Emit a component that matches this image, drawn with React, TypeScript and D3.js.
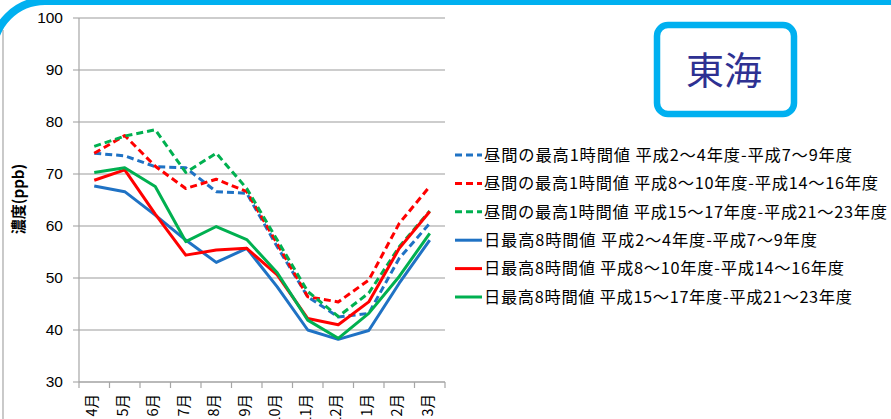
import React from "react";
import * as d3 from "d3";

const months = ["4月", "5月", "6月", "7月", "8月", "9月", "10月", "11月", "12月", "1月", "2月", "3月"];
const yTicks = [30, 40, 50, 60, 70, 80, 90, 100];

const dayBlue = [74.0, 73.5, 71.4, 71.2, 66.6, 66.3, 56.0, 46.4, 42.5, 43.2, 53.8, 60.5];
const dayRed = [74.0, 77.4, 71.5, 67.2, 69.0, 66.6, 56.6, 46.4, 45.4, 49.6, 60.5, 67.6];
const dayGreen = [75.3, 77.3, 78.5, 70.3, 74.0, 67.2, 57.3, 47.4, 42.6, 47.1, 56.0, 62.9];
const h8Blue = [67.7, 66.6, 62.1, 57.3, 53.0, 55.7, 48.3, 40.0, 38.2, 39.9, 49.0, 57.3];
const h8Red = [68.8, 70.8, 62.3, 54.4, 55.4, 55.7, 50.6, 42.2, 41.0, 45.4, 55.7, 62.8];
const h8Green = [70.3, 71.2, 67.6, 57.0, 59.9, 57.4, 51.0, 41.9, 38.4, 43.2, 50.3, 58.6];

const seriesNames = [
  "昼間の最高1時間値 平成2～4年度-平成7～9年度",
  "昼間の最高1時間値 平成8～10年度-平成14～16年度",
  "昼間の最高1時間値 平成15～17年度-平成21～23年度",
  "日最高8時間値 平成2～4年度-平成7～9年度",
  "日最高8時間値 平成8～10年度-平成14～16年度",
  "日最高8時間値 平成15～17年度-平成21～23年度",
];

const BLUE = "#1F72C4";
const RED = "#FF0000";
const GREEN = "#00B050";

const series = [
  { name: seriesNames[0], values: dayBlue, color: BLUE, dash: "7,4" },
  { name: seriesNames[1], values: dayRed, color: RED, dash: "7,4" },
  { name: seriesNames[2], values: dayGreen, color: GREEN, dash: "7,4" },
  { name: seriesNames[3], values: h8Blue, color: BLUE, dash: null },
  { name: seriesNames[4], values: h8Red, color: RED, dash: null },
  { name: seriesNames[5], values: h8Green, color: GREEN, dash: null },
];

const legendWidths = [368, 394, 403, 333, 360, 368];

export default function App() {
  const W = 891, H = 419;
  const x0 = 79, x1 = 445, yTop = 18, yBot = 382;
  const x = d3.scaleBand<string>().domain(months).range([x0, x1]);
  const y = d3.scaleLinear().domain([30, 100]).range([yBot, yTop]);
  const line = d3
    .line<number>()
    .x((_, i) => (x(months[i]) as number) + x.bandwidth() / 2)
    .y((d) => y(d));
  const numFont = "'Liberation Sans', Arial, sans-serif";
  const jpFont = "'Noto Sans CJK JP', sans-serif";
  const legX = 455, legY0 = 155, legStep = 28.4;
  const bounds = months.map((m) => x(m) as number).concat([x1]);

  return (
    <svg width={W} height={H} style={{ position: "absolute", left: 0, top: 0, background: "#fff" }}>
      <rect x={0} y={0} width={W} height={H} fill="#fff" />
      <line x1={3} y1={30} x2={3} y2={H} stroke="#A6A6A6" strokeWidth={1.2} />
      {yTicks.map((t) => (
        <g key={t}>
          <line x1={73} x2={x1} y1={y(t)} y2={y(t)} stroke="#BDBDBD" strokeWidth={1.3} />
          <text x={63} y={y(t)} dy="0.35em" textAnchor="end" fontFamily={numFont} fontSize={15.5} fill="#000">
            {t}
          </text>
        </g>
      ))}
      <line x1={x0} x2={x0} y1={yTop} y2={yBot} stroke="#A6A6A6" strokeWidth={1.2} />
      <line x1={x0} x2={x1} y1={yBot} y2={yBot} stroke="#A6A6A6" strokeWidth={1.2} />
      {bounds.map((b, i) => (
        <line key={i} x1={b} x2={b} y1={yBot} y2={yBot + 6} stroke="#A6A6A6" strokeWidth={1.2} />
      ))}
      {months.map((m) => (
        <text
          key={m}
          transform={`translate(${(x(m) as number) + x.bandwidth() / 2 - 2},394) rotate(-90)`}
          textAnchor="end"
          dy="0.35em"
          fontFamily={jpFont}
          fontSize={14.5}
          fill="#000"
        >
          {m}
        </text>
      ))}
      <text
        transform="translate(19,199) rotate(-90)"
        textAnchor="middle"
        dy="0.35em"
        fontFamily={jpFont}
        fontWeight="bold"
        fontSize={15}
        fill="#000"
      >
        濃度(ppb)
      </text>
      {series.map((s) => (
        <path
          key={s.name}
          d={line(s.values) as string}
          fill="none"
          stroke={s.color}
          strokeWidth={3}
          strokeDasharray={s.dash ?? undefined}
          strokeLinejoin="round"
        />
      ))}
      {series.map((s, i) => (
        <g key={"leg" + i} transform={`translate(${legX},${legY0 + i * legStep})`}>
          <line x1={0} x2={27} y1={0} y2={0} stroke={s.color} strokeWidth={3} strokeDasharray={s.dash ?? undefined} />
          <text
            x={29}
            y={0}
            dy="0.36em"
            fontFamily={jpFont}
            fontSize={16.3}
            fill="#000"
            textLength={legendWidths[i]}
            lengthAdjust="spacing"
          >
            {s.name}
          </text>
        </g>
      ))}
      <rect x={657} y={25} width={137} height={89} rx={11} fill="#fff" stroke="#00B0F0" strokeWidth={6.5} />
      <text x={724} y={70} dy="0.36em" textAnchor="middle" fontFamily={jpFont} fontSize={38} fill="#2E3192">
        東海
      </text>
      <rect x={-7} y={1} width={1000} height={1000} rx={52} fill="none" stroke="#00B0F0" strokeWidth={8} />
    </svg>
  );
}
